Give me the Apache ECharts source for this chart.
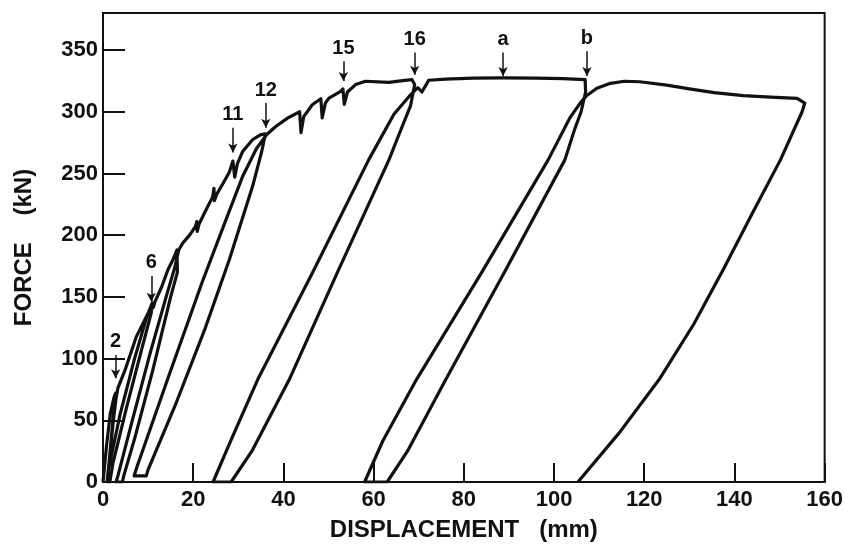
<!DOCTYPE html>
<html>
<head>
<meta charset="utf-8">
<script src="https://cdn.jsdelivr.net/npm/echarts@6/dist/echarts.min.js"></script>
<style>
  html, body { margin: 0; padding: 0; background: #fff; }
  #chart { width: 846px; height: 551px; }
</style>
</head>
<body>
<div id="chart"></div>
<script>
  // displacement (mm), force (kN), in drawing order
  var firstRise = [[0, 0], [0.8, 30], [1.6, 55], [2.4, 68], [2.8, 72], [2.2, 50], [1.5, 22], [1.0, 2], [0.9, 0],
    [1.6, 25], [2.3, 50], [2.9, 68], [3.3, 76], [4.9, 90.8], [7.4, 117.8], [10, 136.8], [10.9, 145]]
  var loop6 = [[10.7, 137], [8.4, 105], [5.2, 60], [2.2, 15], [1.6, 2], [1.5, 0], [0.9, 0],
    [1.2, 10], [3.8, 55], [7, 100], [9.8, 135], [11.2, 142]]
  var rise17 = [[11.5, 146], [13, 158], [14.4, 172], [15.5, 180], [16.4, 188]]
  var loop17 = [[16.5, 170], [15, 150], [11, 90], [7, 35], [4.6, 5], [4.3, 0], [2.9, 0],
    [3.3, 5], [6.5, 50], [10.5, 105], [14, 150], [16, 175], [16.8, 188]]
  var rise12 = [[17.7, 193.6], [19.2, 200], [20.5, 207], [20.8, 211], [20.9, 203], [21.3, 209], [22.5, 218],
    [24.3, 231], [24.6, 238], [24.7, 228], [25.2, 233], [26, 238], [28, 251], [28.8, 260], [29.2, 247],
    [29.8, 258], [31, 268], [33.2, 277.5], [35, 281.5], [36, 282]]
  var loop12 = [[35.2, 268], [33.2, 240], [28, 180], [22.5, 123], [16, 62], [10, 10], [9.6, 5], [6.9, 5],
    [7.5, 12], [14.5, 85], [22, 162], [27, 210], [31, 248], [34, 270], [36.3, 281.5]]
  var rise16 = [[38.3, 288], [41, 295], [43.6, 300], [43.9, 283], [44.5, 296], [46.4, 305.7], [48.3, 310.5],
    [48.6, 295], [49.3, 307], [50.1, 311], [52.7, 316.5], [53.2, 318.5], [53.5, 306], [54.2, 316], [56, 322],
    [58.2, 324.7], [63.4, 323.8], [66, 325], [68.5, 326], [69.1, 322]]
  var loop16 = [[68.2, 305], [66, 285], [63.4, 261], [52, 170], [41.3, 83], [33, 25], [28.4, 0], [24.4, 0],
    [28.5, 35], [34.3, 83], [46.5, 170], [58.9, 261], [64.5, 298], [68, 313], [69.8, 319.5]]
  var plateau = [[70.7, 316], [71.5, 321], [72.2, 325.5], [76, 326.5], [82, 327.2], [88.7, 327.5],
    [96, 327.3], [102, 326.8], [106.9, 326], [107, 316]]
  var loopB = [[106, 300], [104.5, 285], [102.4, 261], [89, 170], [76, 83], [67.5, 25], [63, 0], [58, 0],
    [62, 33], [69.5, 83], [84, 170], [98.7, 261], [103.5, 295], [105.8, 307], [107.2, 313]]
  var lastRise = [[109.5, 319], [112.5, 323], [115.6, 324.7], [119, 324.3], [125, 321.5], [130, 318.5],
    [135.5, 315.5], [142, 313], [148, 311.8], [153.9, 310.8], [155.6, 307]]
  var lastUnload = [[155, 300], [150.2, 261], [144, 218], [137.5, 172], [131, 128], [123.3, 83], [114.5, 40], [105.3, 0]]

  // arrows: label, displacement, top and tip force
  var arrowLabels = ['2', '6', '11', '12', '15', '16', 'a', 'b']
  var arrowX = [2.8, 10.7, 28.8, 36.1, 53.3, 69.1, 88.7, 107.3]
  var arrowTop = [103, 167, 287, 307, 341, 348, 348, 349]
  var arrowTip = [84, 146, 267, 287, 325, 330, 329, 329]

  var xTicks = { min: 0, max: 160, interval: 20 }
  var yTicks = { min: 0, max: 380, interval: 50 }

  var curve = [].concat(firstRise, loop6, rise17, loop17, rise12, loop12, rise16, loop16, plateau, loopB, lastRise, lastUnload)

  var arrows = arrowLabels.map(function (t, i) {
    return [{ name: t, coord: [arrowX[i], arrowTop[i]] }, { coord: [arrowX[i], arrowTip[i]] }]
  })

  var ink = '#111'
  var font = 'Liberation Sans, Arial, sans-serif'

  var chart = echarts.init(document.getElementById('chart'))
  chart.setOption({
    animation: false,
    backgroundColor: '#fff',
    grid: {
      left: 103,
      right: 18,
      top: 13,
      bottom: 69,
      show: true,
      borderColor: ink,
      borderWidth: 2
    },
    xAxis: {
      type: 'value',
      min: xTicks.min,
      max: xTicks.max,
      interval: xTicks.interval,
      name: 'DISPLACEMENT   (mm)',
      nameLocation: 'middle',
      nameGap: 36,
      nameTextStyle: { color: ink, fontFamily: font, fontWeight: 'bold', fontSize: 24 },
      axisLine: { lineStyle: { color: ink, width: 2 } },
      axisTick: { inside: true, length: 19, lineStyle: { color: ink, width: 2 } },
      axisLabel: { color: ink, fontFamily: font, fontWeight: 'bold', fontSize: 22, margin: 7 },
      splitLine: { show: false }
    },
    yAxis: {
      type: 'value',
      min: yTicks.min,
      max: yTicks.max,
      interval: yTicks.interval,
      name: 'FORCE    (kN)',
      nameLocation: 'middle',
      nameGap: 67,
      nameTextStyle: { color: ink, fontFamily: font, fontWeight: 'bold', fontSize: 24 },
      axisLine: { lineStyle: { color: ink, width: 2 } },
      axisTick: { inside: true, length: 22, lineStyle: { color: ink, width: 2 } },
      axisLabel: { color: ink, fontFamily: font, fontWeight: 'bold', fontSize: 22, margin: 5, showMaxLabel: false },
      splitLine: { show: false }
    },
    series: [
      {
        type: 'line',
        data: curve,
        showSymbol: false,
        silent: true,
        lineStyle: { color: ink, width: 3.2, join: 'round' },
        markLine: {
          silent: true,
          animation: false,
          symbol: ['none', 'arrow'],
          symbolSize: [7, 9],
          lineStyle: { color: ink, width: 1.5, type: 'solid' },
          label: {
            show: true,
            position: 'start',
            distance: 3,
            formatter: function (p) { return p.name },
            color: ink,
            fontFamily: font,
            fontWeight: 'bold',
            fontSize: 20
          },
          emphasis: { disabled: true },
          data: arrows
        }
      }
    ]
  })
</script>
</body>
</html>
